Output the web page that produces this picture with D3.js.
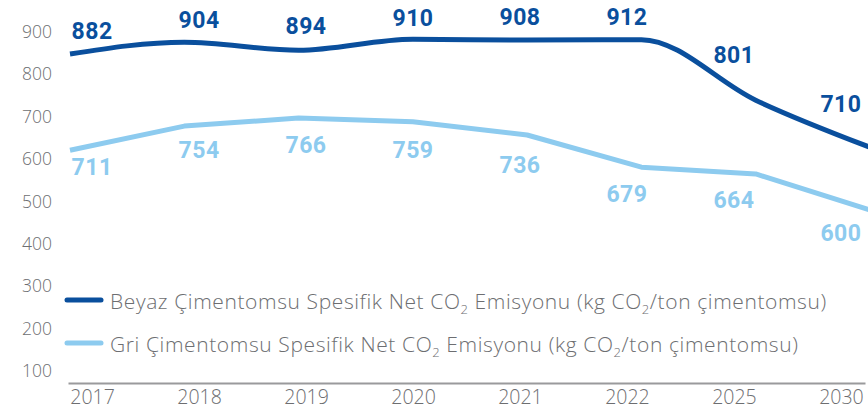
<!DOCTYPE html>
<html>
<head>
<meta charset="utf-8">
<script src="https://cdn.jsdelivr.net/npm/d3@7"></script>
<style>
    body { margin: 0; background: #fff; }
    svg { display: block; }
</style>
</head>
<body>
<svg id="chart" width="868" height="416"></svg>
<script>
const years = ["2017", "2018", "2019", "2020", "2021", "2022", "2025", "2030"];

// numbers printed next to the lines
const beyazLabels = [882, 904, 894, 910, 908, 912, 801, 710];
const griLabels = [711, 754, 766, 759, 736, 679, 664, 600];

// where the drawn lines actually sit against the y axis
const beyazLine = [848, 876, 857, 883, 881, 882, 739, 628];
const griLine = [621, 678, 697, 688, 657, 581, 565, 480];

const yTicks = [100, 200, 300, 400, 500, 600, 700, 800, 900];

const legendParts = [
    ["Beyaz Çimentomsu Spesifik Net CO", "2", " Emisyonu (kg CO", "2", "/ton çimentomsu)"],
    ["Gri Çimentomsu Spesifik Net CO", "2", " Emisyonu (kg CO", "2", "/ton çimentomsu)"]
];

const darkBlue = "#0a4f9d";
const lightBlue = "#8dcbef";
const grey = "#6d6e71";
const labelFont = "Roboto, sans-serif";
const textFont = "'Open Sans', sans-serif";

const svg = d3.select("#chart");

const y = d3.scaleLinear()
    .domain([100, 900])
    .range([371, 32]);

// tick labels and value labels
const xLabel = d3.scalePoint()
    .domain(years)
    .range([68, 865])
    .padding(0.225);

// the line drawing is a bit wider than the label grid
const xLine = d3.scalePoint()
    .domain(years)
    .range([70, 870]);

// y axis
const yAxis = svg.append("g")
    .attr("transform", "translate(52,0)")
    .call(d3.axisLeft(y).tickValues(yTicks).tickSize(0).tickPadding(0));
yAxis.select(".domain").remove();
yAxis.selectAll("text")
    .attr("fill", grey)
    .style("font-family", textFont)
    .style("font-weight", 300)
    .style("font-size", "17.5px");

// x axis
const xAxis = svg.append("g")
    .attr("transform", "translate(0,383)")
    .call(d3.axisBottom(xLabel).tickSize(0).tickPadding(7));
xAxis.select(".domain")
    .attr("stroke", "#9a9a9c")
    .attr("stroke-width", 2);
xAxis.selectAll("text")
    .attr("fill", grey)
    .attr("dy", "0.71em")
    .style("font-family", textFont)
    .style("font-weight", 300)
    .style("font-size", "19.5px");

const series = [
    { values: beyazLine, labels: beyazLabels, color: darkBlue, curve: d3.curveMonotoneX, shift: -21, offset: -15 },
    { values: griLine, labels: griLabels, color: lightBlue, curve: d3.curveLinear, shift: 21, offset: 34 }
];

series.forEach(s => {
    const line = d3.line()
        .x((d, i) => xLine(years[i]))
        .y(d => y(d))
        .curve(s.curve);

    svg.append("path")
        .datum(s.values)
        .attr("fill", "none")
        .attr("stroke", s.color)
        .attr("stroke-width", 5)
        .attr("stroke-linejoin", "round")
        .attr("d", line);

    // follow the line to place each label
    const lineAt = d3.scaleLinear()
        .domain(years.map(d => xLine(d)))
        .range(s.values.map(d => y(d)))
        .clamp(true);

    svg.append("g")
        .selectAll("text")
        .data(s.labels)
        .join("text")
        .attr("x", (d, i) => xLabel(years[i]))
        .attr("y", (d, i) => lineAt(xLabel(years[i]) + s.shift) + s.offset)
        .attr("text-anchor", "middle")
        .attr("fill", s.color)
        .style("font-family", labelFont)
        .style("font-weight", 700)
        .style("font-size", "23px")
        .style("letter-spacing", "0.5px")
        .text(d => d);
});

// legend
const legend = svg.append("g");
[darkBlue, lightBlue].forEach((color, i) => {
    const ly = 300 + i * 43;
    legend.append("line")
        .attr("x1", 67).attr("x2", 101)
        .attr("y1", ly).attr("y2", ly)
        .attr("stroke", color)
        .attr("stroke-width", 5)
        .attr("stroke-linecap", "round");

    const t = legend.append("text")
        .attr("x", 110)
        .attr("y", ly + 9)
        .attr("fill", grey)
        .style("font-family", textFont)
        .style("font-weight", 300)
        .style("font-size", "21px")
        .style("letter-spacing", "0.6px");

    legendParts[i].forEach((part, j) => {
        const sub = j % 2 === 1;
        t.append("tspan")
            .attr("dy", sub ? 5 : (j > 0 ? -5 : 0))
            .style("font-size", sub ? "13px" : null)
            .text(part);
    });
});
</script>
</body>
</html>
